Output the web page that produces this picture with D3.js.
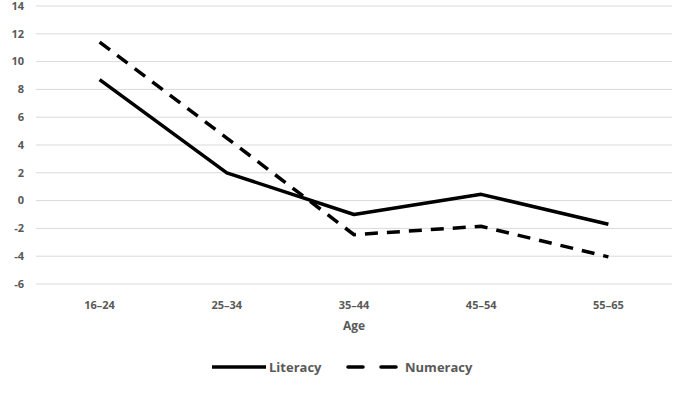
<!DOCTYPE html>
<html><head><meta charset="utf-8">
<script src="https://cdn.jsdelivr.net/npm/d3@7"></script>
<style>body{margin:0;background:#fff}svg{display:block}text{font-family:"Open Sans","DejaVu Sans",sans-serif;}</style>
</head><body>
<svg id="c" width="685" height="395"></svg>
<script>
const categories = ["16–24","25–34","35–44","45–54","55–65"];
const literacy = [8.7, 2.0, -1.0, 0.45, -1.7];
const numeracy = [11.4, 4.5, -2.45, -1.85, -4.05];
const yTicks = [-6,-4,-2,0,2,4,6,8,10,12,14];
const seriesNames = ["Literacy","Numeracy"];

(function(){
const svg = d3.select("#c");
const pl = 36, pr = 672, pt = 6, pb = 284;
const x = d3.scaleBand().domain(categories).range([pl, pr]);
const y = d3.scaleLinear().domain([-6, 14]).range([pb, pt]);
const grey = "#595959";

svg.append("g").selectAll("line").data(yTicks).join("line")
  .attr("x1", pl).attr("x2", pr)
  .attr("y1", d => y(d)).attr("y2", d => y(d))
  .attr("stroke", "#d9d9d9").attr("stroke-width", 1);

svg.append("g").selectAll("text").data(yTicks).join("text")
  .attr("x", 24).attr("y", d => y(d)).attr("dy", "0.35em")
  .attr("text-anchor", "end").attr("fill", grey)
  .attr("font-size", 11).attr("font-weight", "bold").text(d => d);

svg.append("g").selectAll("text").data(categories).join("text")
  .attr("x", d => x(d) + x.bandwidth()/2).attr("y", 309)
  .attr("text-anchor", "middle").attr("fill", grey)
  .attr("font-size", 11).attr("font-weight", "bold").text(d => d);

svg.append("text").attr("x", (pl+pr)/2).attr("y", 330)
  .attr("text-anchor", "middle").attr("fill", grey)
  .attr("font-size", 12).attr("font-weight", "bold").text("Age");

const line = d3.line().x((d,i) => x(categories[i]) + x.bandwidth()/2).y(d => y(d));
svg.append("path").datum(literacy).attr("d", line).attr("fill","none")
  .attr("stroke","#000").attr("stroke-width",3.5).attr("stroke-linejoin","round");
svg.append("path").datum(numeracy).attr("d", line).attr("fill","none")
  .attr("stroke","#000").attr("stroke-width",3.5).attr("stroke-dasharray","13,9");

const ly = 367;
svg.append("line").attr("x1",212).attr("x2",266).attr("y1",ly).attr("y2",ly)
  .attr("stroke","#000").attr("stroke-width",3.5);
svg.append("text").attr("x",269).attr("y",ly).attr("dy","0.35em").attr("fill",grey)
  .attr("font-size",13).attr("font-weight","bold").text(seriesNames[0]);
svg.append("line").attr("x1",348).attr("x2",398).attr("y1",ly).attr("y2",ly)
  .attr("stroke","#000").attr("stroke-width",3.5).attr("stroke-dasharray","15,18").attr("stroke-linecap","round");
svg.append("text").attr("x",405).attr("y",ly).attr("dy","0.35em").attr("fill",grey)
  .attr("font-size",13).attr("font-weight","bold").text(seriesNames[1]);
})();
</script>
</body></html>
